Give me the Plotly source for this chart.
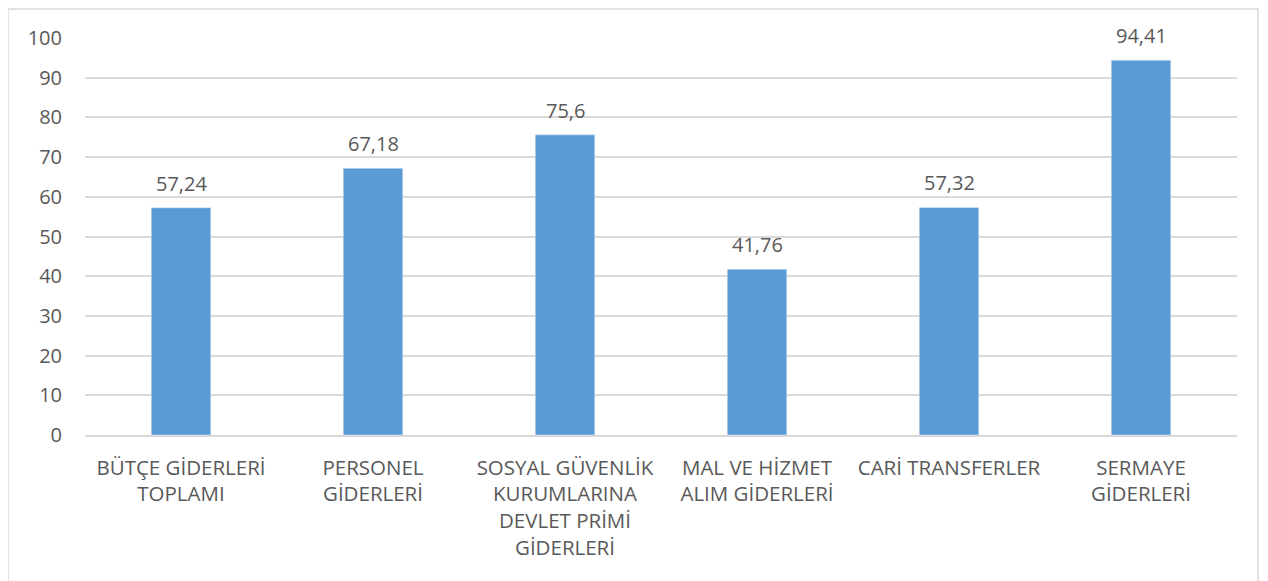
import plotly.graph_objects as go

categories = [
    "BÜTÇE GİDERLERİ<br>TOPLAMI",
    "PERSONEL<br>GİDERLERİ",
    "SOSYAL GÜVENLİK<br>KURUMLARINA<br>DEVLET PRİMİ<br>GİDERLERİ",
    "MAL VE HİZMET<br>ALIM GİDERLERİ",
    "CARİ TRANSFERLER",
    "SERMAYE<br>GİDERLERİ",
]
values = [57.24, 67.18, 75.6, 41.76, 57.32, 94.41]
value_labels = ["57,24", "67,18", "75,6", "41,76", "57,32", "94,41"]
y_ticks = [0, 10, 20, 30, 40, 50, 60, 70, 80, 90, 100]

text_color = "#595959"
grid_color = "#d9d9d9"

fig = go.Figure()
fig.add_trace(go.Bar(
    x=categories,
    y=values,
    marker=dict(color="#5b9bd5"),
    width=0.31,
))

# value labels sit a bit higher above the bars than plotly's outside text
for cat, val, lab in zip(categories, values, value_labels):
    fig.add_annotation(
        x=cat, y=val, text=lab, showarrow=False, yanchor="bottom", yshift=9,
        font=dict(color=text_color, size=20),
    )

# page body has an 8px margin, so the figure is 8px smaller than the window
fig.update_layout(
    width=1260, height=573,
    margin=dict(l=77, r=31, t=30, b=146),
    paper_bgcolor="white", plot_bgcolor="white",
    font=dict(family="Open Sans", size=20, color=text_color),
    showlegend=False,
    xaxis=dict(
        showgrid=False, showline=True, linecolor=grid_color, linewidth=2,
        ticks="", ticklabelstandoff=13, tickfont=dict(size=20.5, color=text_color),
    ),
    yaxis=dict(
        range=[0, 100], tickvals=y_ticks, showgrid=True, gridcolor=grid_color,
        gridwidth=1.5, zeroline=False, showline=False, ticks="",
        ticklabelstandoff=22, tickfont=dict(size=20, color=text_color),
    ),
    shapes=[dict(
        type="rect", xref="paper", yref="paper",
        xsizemode="pixel", ysizemode="pixel", xanchor=0, yanchor=0,
        x0=-77, x1=1173, y0=-300, y1=426,
        line=dict(color=grid_color, width=1.5), layer="below",
    )],
)

fig.write_html("out.html")
